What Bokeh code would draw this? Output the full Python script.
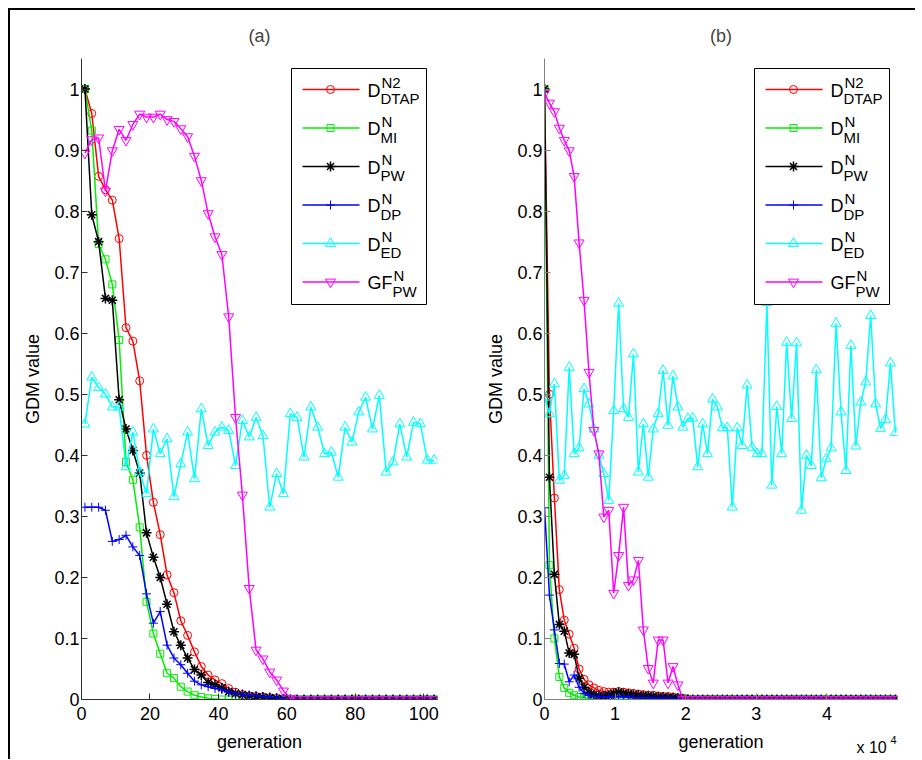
from bokeh.plotting import figure
from bokeh.layouts import row
from bokeh.models import FixedTicker, CustomJSTickFormatter, Range1d, Label
from bokeh.core.properties import value
from bokeh.embed import file_html
from bokeh.resources import INLINE

# ---------------- data: panel (a) ----------------
gen_a = list(range(1, 104, 2))  # 1, 3, ..., 103

dtap_a = [1.0, 0.96, 0.857, 0.835, 0.818, 0.755, 0.609, 0.587, 0.522, 0.40,
          0.323, 0.27, 0.204, 0.175, 0.129, 0.105, 0.078, 0.054, 0.040, 0.032,
          0.026, 0.018, 0.012, 0.008, 0.006, 0.005, 0.004, 0.003, 0.002, 0.001] + [0.0] * 22
mi_a = [1.0, 0.932, 0.746, 0.721, 0.68, 0.589, 0.389, 0.36, 0.282, 0.16,
        0.108, 0.075, 0.043, 0.035, 0.021, 0.013, 0.007, 0.004, 0.002, 0.001] + [0.0] * 32
pw_a = [1.0, 0.794, 0.75, 0.657, 0.654, 0.491, 0.443, 0.408, 0.371, 0.273,
        0.233, 0.200, 0.156, 0.111, 0.089, 0.068, 0.049, 0.040, 0.028, 0.024,
        0.019, 0.013, 0.010, 0.008, 0.006, 0.005, 0.004, 0.003, 0.002, 0.001] + [0.0] * 22
dp_a = [0.315, 0.315, 0.315, 0.31, 0.259, 0.262, 0.269, 0.25, 0.236, 0.173,
        0.125, 0.144, 0.089, 0.068, 0.057, 0.043, 0.030, 0.024, 0.021, 0.018,
        0.016, 0.012, 0.010, 0.008, 0.007, 0.006, 0.005, 0.004, 0.003, 0.002,
        0.001] + [0.0] * 21
ed_a = [0.451, 0.528, 0.511, 0.50, 0.479, 0.479, 0.381, 0.438, 0.3725, 0.337,
        0.443, 0.4025, 0.427, 0.332, 0.386, 0.438, 0.3615, 0.476, 0.416, 0.438,
        0.446, 0.4405, 0.383, 0.457, 0.43, 0.462, 0.432, 0.315, 0.37, 0.337,
        0.468, 0.462, 0.397, 0.479, 0.446, 0.4025, 0.405, 0.364, 0.446, 0.4215,
        0.471, 0.495, 0.443, 0.498, 0.3725, 0.389, 0.4515, 0.397, 0.454, 0.4515,
        0.392, 0.392]
gfpw_a = [0.895, 0.917, 0.92, 0.833, 0.899, 0.934, 0.916, 0.942, 0.959, 0.954,
          0.954, 0.959, 0.95, 0.947, 0.935, 0.922, 0.89, 0.85, 0.796, 0.758,
          0.729, 0.627, 0.462, 0.335, 0.182, 0.081, 0.0665, 0.045, 0.032, 0.014,
          0.002] + [0.0] * 21

# ---------------- data: panel (b) ----------------
gen_b = list(range(0, 50000, 700))  # 0, 700, ..., 49700

dtap_b = [1.0, 0.50, 0.33, 0.18, 0.13, 0.107, 0.084, 0.05, 0.033, 0.024,
          0.019, 0.015, 0.013, 0.012, 0.012, 0.013, 0.012, 0.011, 0.010, 0.009,
          0.008, 0.007, 0.007, 0.006, 0.005, 0.005, 0.004, 0.003, 0.002, 0.001] + [0.0] * 42
mi_b = [1.0, 0.22, 0.10, 0.037, 0.019, 0.011, 0.007, 0.004, 0.003, 0.002, 0.001] + [0.0] * 61
pw_b = [1.0, 0.364, 0.205, 0.123, 0.112, 0.076, 0.074, 0.035, 0.02, 0.012,
        0.008, 0.006, 0.006, 0.007, 0.010, 0.012, 0.010, 0.009, 0.008, 0.007,
        0.006, 0.006, 0.005, 0.004, 0.004, 0.003, 0.003, 0.002, 0.001] + [0.0] * 43
dp_b = [0.314, 0.171, 0.114, 0.059, 0.058, 0.029, 0.040, 0.020, 0.010, 0.007,
        0.005, 0.005, 0.004, 0.004, 0.004, 0.005, 0.004, 0.004, 0.003, 0.003,
        0.003, 0.003, 0.002, 0.002, 0.002, 0.002, 0.001, 0.001] + [0.0] * 44
ed_b = [0.495, 0.468, 0.517, 0.359, 0.367, 0.544, 0.4025, 0.412, 0.509, 0.484,
        0.443, 0.40, 0.37, 0.326, 0.473, 0.649, 0.476, 0.462, 0.566, 0.3725,
        0.4515, 0.364, 0.443, 0.468, 0.539, 0.449, 0.530, 0.479, 0.446, 0.46,
        0.461, 0.381, 0.4515, 0.4025, 0.492, 0.479, 0.445, 0.445, 0.315, 0.445,
        0.416, 0.515, 0.413, 0.4025, 0.4025, 0.650, 0.351, 0.480, 0.4025, 0.585,
        0.46, 0.584, 0.31, 0.40, 0.383, 0.540, 0.363, 0.394, 0.412, 0.616,
        0.471, 0.375, 0.58, 0.415, 0.487, 0.520, 0.629, 0.484, 0.444, 0.4585,
        0.551, 0.437]
gfpw_b = [0.993, 0.977, 0.963, 0.936, 0.916, 0.899, 0.857, 0.748, 0.654, 0.536,
          0.441, 0.4025, 0.299, 0.310, 0.174, 0.236, 0.315, 0.187, 0.196, 0.228,
          0.114, 0.051, 0.027, 0.0975, 0.0975, 0.027, 0.054, 0.024] + [0.0] * 44

# legend labels: (main, superscript, subscript)
labels = [("D", "N2", "DTAP"), ("D", "N", "MI"), ("D", "N", "PW"),
          ("D", "N", "DP"), ("D", "N", "ED"), ("GF", "N", "PW")]
y_ticks = [0, 0.1, 0.2, 0.3, 0.4, 0.5, 0.6, 0.7, 0.8, 0.9, 1.0]
x_ticks_a = [0, 20, 40, 60, 80, 100]
x_ticks_b = [0, 10000, 20000, 30000, 40000]
x_multiplier = ("x 10", "4")

# ---------------- styles ----------------
FONT = "Liberation Sans"
styles = [("#ff0000", "circle", 8), ("#00ee00", "square", 7), ("#000000", "asterisk", 10),
          ("#0000ff", "cross", 9), ("#00ffff", "triangle", 10), ("#ff00ff", "inverted_triangle", 10)]
MAIN_W = {"D": 13, "GF": 25}

FT, FH = 57, 641          # frame top (page px) and frame height
Y0, Y1 = 0.0, 1.05


def panel(tag, xs, series, x_end, frame_left, frame_width, mb_left, mb_right,
          xticks, xcode, axis_col, legend_left):
    p = figure(frame_width=frame_width, frame_height=FH,
               x_range=Range1d(0, x_end), y_range=Range1d(Y0, Y1),
               output_backend="svg", toolbar_location=None,
               min_border_left=mb_left, min_border_right=mb_right,
               min_border_top=47, min_border_bottom=60, title=tag)
    p.background_fill_color = "white"
    p.border_fill_color = "white"
    p.outline_line_color = None
    p.grid.visible = False
    p.title.align = "center"
    p.title.text_font = FONT
    p.title.text_font_size = "18px"
    p.title.text_font_style = "normal"
    p.title.standoff = 26

    for ax in (p.xaxis[0], p.yaxis[0]):
        ax.axis_line_color = axis_col
        ax.major_tick_line_color = axis_col
        ax.major_tick_in = 6
        ax.major_tick_out = 0
        ax.minor_tick_line_color = None
        ax.major_label_text_font = FONT
        ax.major_label_text_font_size = "18px"
        ax.major_label_text_color = "black"
        ax.axis_label_text_font = FONT
        ax.axis_label_text_font_size = "18px"
        ax.axis_label_text_font_style = "normal"
        ax.axis_label_text_color = "black"
    p.xaxis.ticker = FixedTicker(ticks=xticks)
    p.yaxis.ticker = FixedTicker(ticks=y_ticks)
    p.yaxis.formatter = CustomJSTickFormatter(code="return String(Math.round(tick*10)/10);")
    p.xaxis.formatter = CustomJSTickFormatter(code=xcode)
    p.xaxis.axis_label = "generation"
    p.yaxis.axis_label = "GDM value"
    p.xaxis.major_label_standoff = 7
    p.yaxis.major_label_standoff = 2
    p.xaxis.axis_label_standoff = 9
    p.yaxis.axis_label_standoff = 8

    for ys, (col, mk, sz) in zip(series, styles):
        p.line(xs, ys, line_color=col, line_width=1.5)
        p.scatter(xs, ys, marker=mk, size=sz, line_color=col, fill_color=None,
                  line_width=1.5 if mk == "asterisk" else 1)

    # legend drawn in data space from page-pixel layout positions
    def dx(px):
        return (px - frame_left) / frame_width * x_end

    def dy(py):
        return Y1 - (py - FT) / FH * (Y1 - Y0)

    bl = legend_left
    p.quad(left=[dx(bl)], right=[dx(bl + 135)], top=[dy(67)], bottom=[dy(303)],
           fill_color="white", line_color="black", line_width=1)
    for i, ((main, sup, sub), (col, mk, sz)) in enumerate(zip(labels, styles)):
        ly = 88 + 38.5 * i
        p.line([dx(bl + 11), dx(bl + 68)], [dy(ly), dy(ly)], line_color=col, line_width=1.5)
        p.scatter([dx(bl + 39)], [dy(ly)], marker=mk, size=sz, line_color=col, fill_color=None,
                  line_width=1.5 if mk == "asterisk" else 1)
        p.text(x=[dx(bl + 76)], y=[dy(ly + 1)], text=[main], text_font=value(FONT),
               text_font_size="18px", text_baseline="middle", text_align="left", text_color="black")
        w = MAIN_W[main]
        p.text(x=[dx(bl + 77 + w)], y=[dy(ly - 7)], text=[sup], text_font=value(FONT),
               text_font_size="15px", text_baseline="middle", text_align="left", text_color="black")
        p.text(x=[dx(bl + 76 + w)], y=[dy(ly + 9)], text=[sub], text_font=value(FONT),
               text_font_size="15px", text_baseline="middle", text_align="left", text_color="black")
    return p, dx, dy


pa, _, _ = panel("(a)", gen_a, [dtap_a, mi_a, pw_a, dp_a, ed_a, gfpw_a], 104, 81, 356, 71, 10,
                 x_ticks_a, "return String(tick);", "#303030", 291)
pb, dxb, dyb = panel("(b)", gen_b, [dtap_b, mi_b, pw_b, dp_b, ed_b, gfpw_b], 50000, 543, 353, 96, 18,
                     x_ticks_b, "return String(tick/10000);", "#808080", 753)

# "x 10^4" multiplier: placed in a side panel (not clipped), positioned via the data scales
pb.add_layout(Label(x=dxb(855), y=dyb(746), x_units="data", y_units="data", text=x_multiplier[0],
                    text_font=FONT, text_font_size="16px", text_baseline="middle",
                    text_color="black"), "left")
pb.add_layout(Label(x=dxb(889), y=dyb(738), x_units="data", y_units="data", text=x_multiplier[1],
                    text_font=FONT, text_font_size="11px", text_baseline="middle",
                    text_color="black"), "left")

layout = row(pa, pb, styles={"margin-top": "8px", "margin-left": "8px",
                             "border-top": "2px solid black", "border-left": "2px solid black"})

open("out.html", "w").write(file_html(layout, INLINE))
